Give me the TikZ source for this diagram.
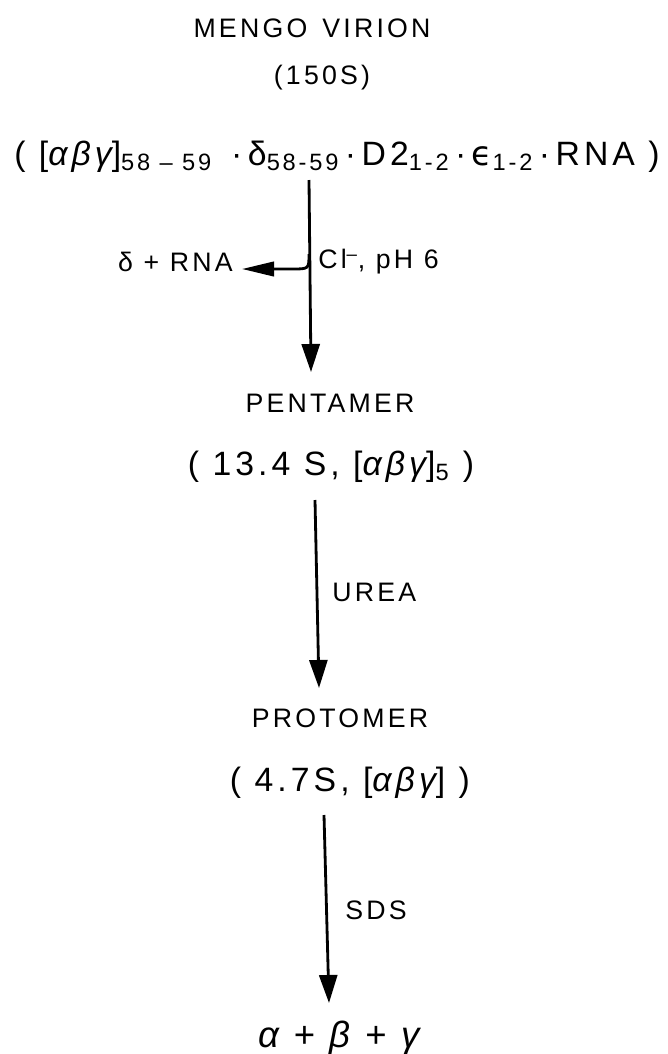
\documentclass[tikz,border=0pt]{standalone}
\usepackage{fontspec}
\setmainfont{Liberation Sans}
\newfontfamily\spaced[LetterSpace=12]{Liberation Sans}
\newfontfamily\epsfont[LetterSpace=12]{DejaVu Sans}
\usetikzlibrary{arrows.meta}
\newcommand{\gk}[1]{{\itshape #1}}
\tikzset{
  lbl/.style={font=\spaced\fontsize{19}{23}\selectfont, inner sep=0pt},
  big/.style={font=\spaced\fontsize{24}{28}\selectfont, inner sep=0pt},
  cond/.style={lbl, anchor=west},
  flow/.style={-{Triangle[length=7mm, width=4.5mm]}, line width=2pt},
  sideflow/.style={-{Triangle[length=8mm, width=3.6mm]}, line width=2pt}
}

\begin{document}
\begin{tikzpicture}[x=0.025cm, y=-0.025cm]
\useasboundingbox (0,0) rectangle (667,1054);
% virion and its composition
\node[lbl] (virion) at (312,28) {MENGO\, VIRION};
\node[lbl] (virsed) at (322,78) {(150S)};
\node[big] (comp) at (337,157) {( [\gk{αβγ}]\textsubscript{58 – 59} \,·\,δ\textsubscript{58-59}\,·\,D2\textsubscript{1-2}\,·\,{\epsfont ϵ}\textsubscript{1-2}\,·\,RNA )};
% released part
\node[lbl, anchor=east] (side) at (233,262) {δ + RNA};
\node[cond] (clph) at (318,262) {Cl\textsuperscript{–}, pH 6};
% pentamer
\node[lbl] (pent) at (330,403) {PENTAMER};
\node[big] (pentsed) at (331,467) {( 13.4 S, [\gk{αβγ}]\textsubscript{5} )};
\node[cond] (urea) at (332,592) {UREA};
% protomer
\node[lbl] (prot) at (340,718) {PROTOMER};
\node[big] (protsed) at (350,783) {( 4.7S, [\gk{αβγ}] )};
\node[cond] (sds) at (345,910) {SDS};
\node[big, font=\spaced\fontsize{26}{30}\selectfont] (chains) at (339,1038) {\gk{α} + \gk{β} + \gk{γ}};
% arrow ends
\coordinate (t1) at (309,180);
\coordinate (h1) at (311,372);
\coordinate (br) at (309,254);
\coordinate (bt) at (242,269);
\coordinate (t2) at (315,500);
\coordinate (h2) at (319,688);
\coordinate (t3) at (324,815);
\coordinate (h3) at (329,1003);
\draw[flow] (t1) -- (h1);
\draw[sideflow] (br) .. controls (309,269) .. (292,269) -- (bt);
\draw[flow] (t2) -- (h2);
\draw[flow] (t3) -- (h3);
\end{tikzpicture}
\end{document}
